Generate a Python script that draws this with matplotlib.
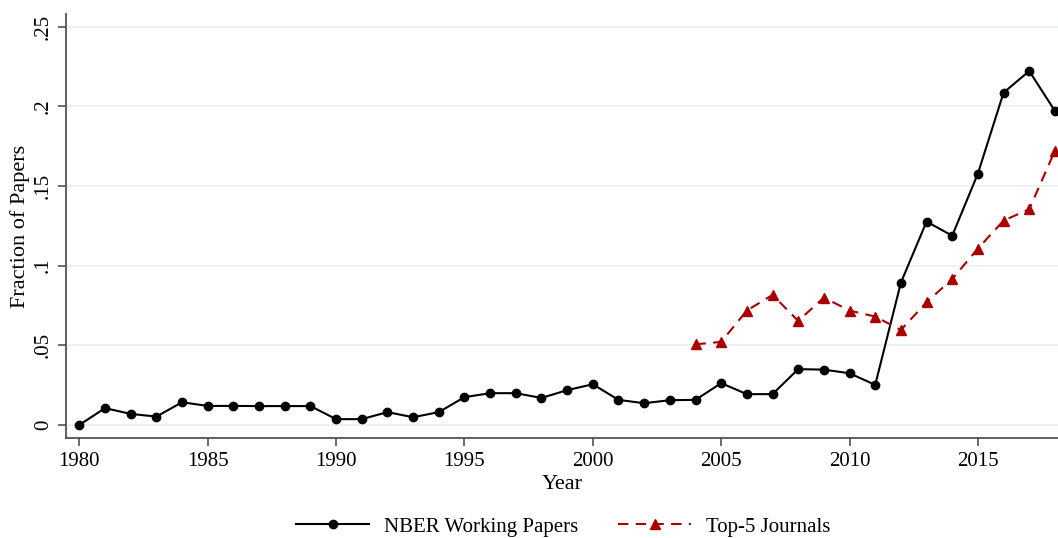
import numpy as np
import matplotlib.pyplot as plt

# Data
years_nber = list(range(1980, 2019))
nber = [0.0, 0.0105, 0.0069, 0.0052, 0.0142, 0.0119, 0.0119, 0.0118, 0.0118, 0.0118,
        0.0036, 0.0036, 0.0080, 0.0048, 0.0080, 0.0174, 0.0199, 0.0199, 0.0169, 0.0218,
        0.0255, 0.0157, 0.0136, 0.0155, 0.0157, 0.0262, 0.0193, 0.0193, 0.0350, 0.0347,
        0.0324, 0.0251, 0.0893, 0.1276, 0.1188, 0.1578, 0.2086, 0.2222, 0.1971]

years_top5 = list(range(2004, 2019))
top5 = [0.0506, 0.0521, 0.0718, 0.0816, 0.0653, 0.0799, 0.0718, 0.0680, 0.0596,
        0.0770, 0.0916, 0.1107, 0.1283, 0.1354, 0.1722]

yticks = [0, 0.05, 0.10, 0.15, 0.20, 0.25]
ytick_labels = ['0', '.05', '.1', '.15', '.2', '.25']
xticks = [1980, 1985, 1990, 1995, 2000, 2005, 2010, 2015]

plt.rcParams['font.family'] = ['Liberation Serif', 'DejaVu Serif']
plt.rcParams['font.size'] = 15

fig = plt.figure(figsize=(10.58, 5.38), dpi=100)
ax = fig.add_axes([0.0624, 0.186, 0.9376, 0.788])

red = '#a80000'
ax.plot(years_nber, nber, color='black', lw=1.5, marker='o', markersize=6,
        label='NBER Working Papers', zorder=3)
ax.plot(years_top5, top5, color=red, lw=1.5, ls=(0, (5, 3.5)), marker='^', markersize=7.5,
        label='Top-5 Journals', zorder=3)

ax.set_xlim(1979.48, 2018.12)
ax.set_ylim(-0.0082, 0.258)
ax.set_yticks(yticks)
ax.set_yticklabels(ytick_labels, rotation=90, va='center')
ax.set_xticks(xticks)

for s in ['top', 'right']:
    ax.spines[s].set_visible(False)
for s in ['left', 'bottom']:
    ax.spines[s].set_color('#444444')
    ax.spines[s].set_linewidth(1.2)
ax.tick_params(direction='out', length=6, width=1.1, color='#444444', pad=4)
ax.tick_params(axis='y', pad=3.5)

ax.grid(axis='y', color='#eaf2f3', lw=1.3)
ax.set_axisbelow(True)

ax.set_xlabel('Year', fontsize=16, labelpad=3)
ax.set_ylabel('Fraction of Papers', fontsize=16, labelpad=3)

fig.legend(loc='center', bbox_to_anchor=(0.5326, 0.0205), ncol=2, frameon=False,
           fontsize=15, handlelength=3.5, columnspacing=1.9, handletextpad=0.72)

fig.savefig('out.png', dpi=100)
